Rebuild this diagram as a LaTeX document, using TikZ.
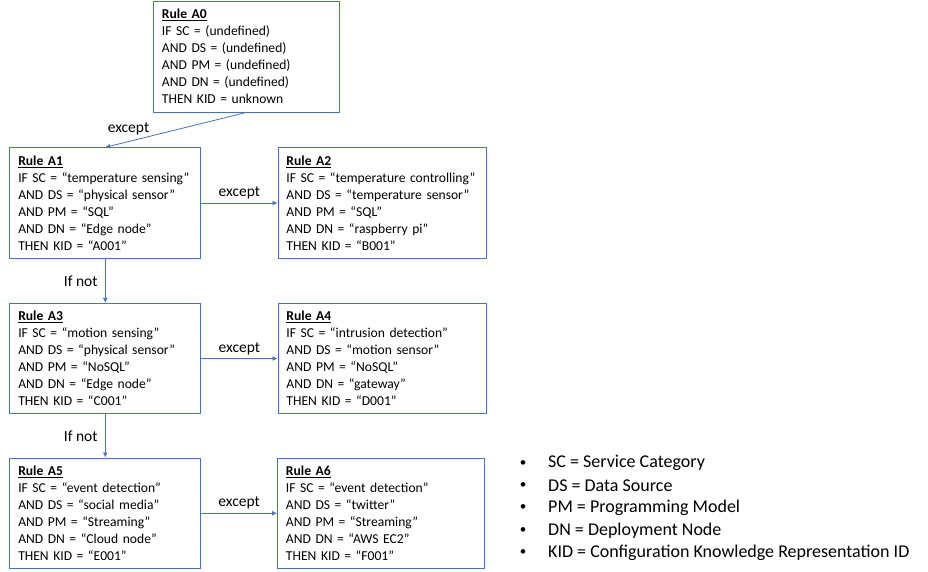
\documentclass[tikz,border=0pt]{standalone}
\usepackage{fontspec}
\setmainfont{Carlito}
\usetikzlibrary{arrows.meta}
\definecolor{ruleblue}{HTML}{4472C4}
\hyphenpenalty=10000

\begin{document}
\begin{tikzpicture}[x=1pt,y=-1pt,
	rulebox/.style={draw=ruleblue,line width=0.9pt,anchor=north west,minimum height=110.5pt,
		inner xsep=8.5pt,inner ysep=0pt,align=left,font=\fontsize{13.6}{17}\selectfont},
	link/.style={draw=ruleblue,line width=0.8pt,-{Latex[length=5pt,width=5pt]}},
	lbl/.style={font=\fontsize{15.5}{19}\selectfont},
	keytext/.style={font=\fontsize{18}{22}\selectfont}]
	\useasboundingbox (0,0) rectangle (928,571);
	\node (A0) at (153,1)[rulebox,text width=169pt] {\textbf{\underline{Rule A0}}\\IF SC = (undefined)\\AND DS = (undefined)\\AND PM = (undefined)\\AND DN = (undefined)\\THEN KID = unknown};
	\node (A1) at (9.3,147.3)[rulebox,text width=174pt] {\textbf{\underline{Rule A1}}\\IF SC = “temperature sensing”\\AND DS = “physical sensor”\\AND PM = “SQL”\\AND DN = “Edge node”\\THEN KID = “A001”};
	\node (A2) at (277.5,147.3)[rulebox,text width=191pt] {\textbf{\underline{Rule A2}}\\IF SC = “temperature controlling”\\AND DS = “temperature sensor”\\AND PM = “SQL”\\AND DN = “raspberry pi”\\THEN KID = “B001”};
	\node (A3) at (9.3,302.8)[rulebox,text width=174pt] {\textbf{\underline{Rule A3}}\\IF SC = “motion sensing”\\AND DS = “physical sensor”\\AND PM = “NoSQL”\\AND DN = “Edge node”\\THEN KID = “C001”};
	\node (A4) at (277.5,302.8)[rulebox,text width=191pt] {\textbf{\underline{Rule A4}}\\IF SC = “intrusion detection”\\AND DS = “motion sensor”\\AND PM = “NoSQL”\\AND DN = “gateway”\\THEN KID = “D001”};
	\node (A5) at (9.3,457.5)[rulebox,text width=174pt] {\textbf{\underline{Rule A5}}\\IF SC = “event detection”\\AND DS = “social media”\\AND PM = “Streaming”\\AND DN = “Cloud node”\\THEN KID = “E001”};
	\node (A6) at (277,457.5)[rulebox,text width=190pt] {\textbf{\underline{Rule A6}}\\IF SC = “event detection”\\AND DS = “twitter”\\AND PM = “Streaming”\\AND DN = “AWS EC2”\\THEN KID = “F001”};
	\draw[link] (A0.south) -- node[lbl,pos=0.8,above,xshift=-5pt,yshift=2pt] {except} (A1.north);
	\draw[link] (A1.east) -- node[lbl,above] {except} (A2.west);
	\draw[link] (A1.south) -- node[lbl,left=4pt] {If not} (A3.north);
	\draw[link] (A3.east) -- node[lbl,above] {except} (A4.west);
	\draw[link] (A3.south) -- node[lbl,left=4pt] {If not} (A5.north);
	\draw[link] (A5.east) -- node[lbl,above] {except} (A6.west);
	% legend
	\foreach \abbr/\full [count=\i] in {SC/Service Category,DS/Data Source,PM/Programming Model,DN/Deployment Node,KID/Configuration Knowledge Representation ID}{
		\node (dot\i) at (523,441+22.3*\i)[font=\fontsize{13}{15}\selectfont] {•};
		\node (key\i) at (548,441+22.3*\i)[keytext,anchor=west,inner sep=0pt] {\abbr{} = \full};
	}
\end{tikzpicture}
\end{document}
